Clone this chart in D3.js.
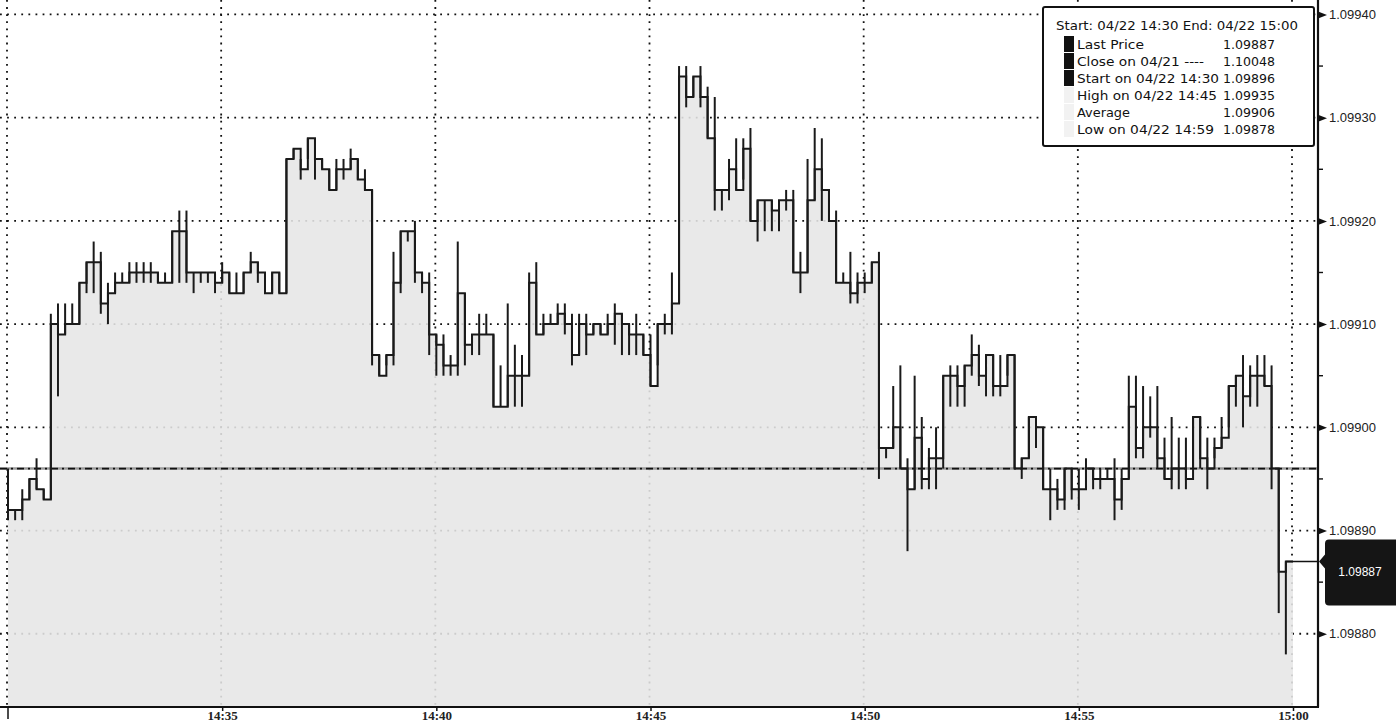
<!DOCTYPE html>
<html><head><meta charset="utf-8">
<script src="https://cdn.jsdelivr.net/npm/d3@7"></script>
<style>body{margin:0;background:#fff;} svg{display:block;}</style>
</head><body><svg id="c" width="1400" height="725"></svg>
<script>
// ---- data: 10-second bars, 14:30:00 .. 14:59:50 (04/22) ----
const highs = [
1.09896,1.09892,1.09894,1.09895,1.09897,1.09894,1.09911,1.09912,1.09912,1.09912,
1.09914,1.09916,1.09918,1.09917,1.09914,1.09915,1.09915,1.09916,1.09916,1.09916,
1.09916,1.09915,1.09915,1.09919,1.09921,1.09921,1.09915,1.09915,1.09915,1.09915,
1.09916,1.09915,1.09915,1.09915,1.09917,1.09916,1.09915,1.09915,1.09915,1.09926,
1.09927,1.09926,1.09928,1.09928,1.09926,1.09925,1.09926,1.09926,1.09927,1.09926,
1.09925,1.09923,1.09907,1.09907,1.09917,1.09919,1.09919,1.09920,1.09915,1.09915,
1.09909,1.09909,1.09907,1.09918,1.09913,1.09909,1.09911,1.09911,1.09909,1.09906,
1.09912,1.09908,1.09907,1.09915,1.09916,1.09911,1.09911,1.09912,1.09912,1.09911,
1.09911,1.09911,1.09910,1.09910,1.09911,1.09912,1.09911,1.09910,1.09911,1.09909,
1.09909,1.09910,1.09911,1.09915,1.09935,1.09935,1.09934,1.09935,1.09933,1.09932,
1.09923,1.09926,1.09928,1.09928,1.09929,1.09922,1.09922,1.09922,1.09922,1.09923,
1.09923,1.09917,1.09926,1.09929,1.09928,1.09923,1.09921,1.09915,1.09917,1.09915,
1.09915,1.09916,1.09917,1.09898,1.09904,1.09906,1.09897,1.09905,1.09901,1.09898,
1.09900,1.09905,1.09906,1.09906,1.09906,1.09909,1.09908,1.09907,1.09907,1.09907,
1.09907,1.09907,1.09897,1.09901,1.09901,1.09900,1.09896,1.09895,1.09896,1.09896,
1.09896,1.09897,1.09896,1.09896,1.09896,1.09897,1.09896,1.09905,1.09905,1.09904,
1.09903,1.09904,1.09899,1.09901,1.09899,1.09899,1.09901,1.09901,1.09899,1.09899,
1.09901,1.09904,1.09905,1.09907,1.09906,1.09907,1.09907,1.09906,1.09896,1.09887];
const lows = [
1.09891,1.09891,1.09891,1.09893,1.09894,1.09893,1.09893,1.09903,1.09909,1.09910,
1.09910,1.09913,1.09913,1.09911,1.09910,1.09913,1.09914,1.09914,1.09914,1.09914,
1.09914,1.09914,1.09914,1.09914,1.09914,1.09914,1.09913,1.09914,1.09914,1.09913,
1.09914,1.09913,1.09913,1.09913,1.09915,1.09914,1.09913,1.09913,1.09913,1.09913,
1.09926,1.09924,1.09926,1.09924,1.09925,1.09923,1.09923,1.09924,1.09925,1.09924,
1.09923,1.09906,1.09905,1.09906,1.09906,1.09913,1.09918,1.09914,1.09913,1.09907,
1.09905,1.09905,1.09905,1.09905,1.09906,1.09907,1.09907,1.09909,1.09902,1.09902,
1.09902,1.09902,1.09902,1.09905,1.09909,1.09909,1.09910,1.09910,1.09909,1.09906,
1.09907,1.09907,1.09909,1.09909,1.09909,1.09908,1.09907,1.09907,1.09907,1.09907,
1.09904,1.09906,1.09909,1.09909,1.09912,1.09931,1.09932,1.09931,1.09928,1.09921,
1.09921,1.09922,1.09923,1.09924,1.09920,1.09918,1.09919,1.09919,1.09919,1.09921,
1.09915,1.09913,1.09915,1.09922,1.09920,1.09920,1.09914,1.09914,1.09912,1.09912,
1.09913,1.09914,1.09895,1.09897,1.09898,1.09896,1.09888,1.09894,1.09894,1.09894,
1.09894,1.09896,1.09902,1.09902,1.09902,1.09905,1.09904,1.09903,1.09903,1.09903,
1.09905,1.09896,1.09895,1.09897,1.09898,1.09894,1.09891,1.09892,1.09892,1.09893,
1.09892,1.09894,1.09894,1.09894,1.09895,1.09891,1.09892,1.09895,1.09897,1.09897,
1.09899,1.09896,1.09895,1.09894,1.09894,1.09894,1.09896,1.09896,1.09894,1.09897,
1.09898,1.09900,1.09902,1.09900,1.09902,1.09902,1.09904,1.09894,1.09882,1.09878];
const closes = [
1.09892,1.09892,1.09893,1.09895,1.09894,1.09893,1.09910,1.09909,1.09910,1.09910,
1.09914,1.09916,1.09916,1.09912,1.09913,1.09914,1.09914,1.09915,1.09915,1.09915,
1.09915,1.09914,1.09914,1.09919,1.09919,1.09915,1.09915,1.09915,1.09915,1.09914,
1.09915,1.09913,1.09913,1.09915,1.09916,1.09915,1.09913,1.09915,1.09913,1.09926,
1.09927,1.09925,1.09928,1.09926,1.09925,1.09923,1.09925,1.09925,1.09926,1.09924,
1.09923,1.09907,1.09905,1.09907,1.09914,1.09919,1.09919,1.09915,1.09914,1.09909,
1.09908,1.09906,1.09906,1.09913,1.09908,1.09909,1.09909,1.09909,1.09902,1.09902,
1.09905,1.09905,1.09905,1.09914,1.09909,1.09910,1.09910,1.09911,1.09910,1.09907,
1.09910,1.09909,1.09910,1.09909,1.09910,1.09911,1.09910,1.09909,1.09909,1.09907,
1.09904,1.09910,1.09910,1.09912,1.09934,1.09932,1.09934,1.09932,1.09928,1.09923,
1.09923,1.09925,1.09923,1.09927,1.09920,1.09922,1.09922,1.09921,1.09922,1.09922,
1.09915,1.09915,1.09922,1.09925,1.09923,1.09920,1.09914,1.09914,1.09913,1.09914,
1.09914,1.09916,1.09898,1.09898,1.09900,1.09896,1.09894,1.09899,1.09895,1.09897,
1.09897,1.09905,1.09905,1.09904,1.09906,1.09907,1.09905,1.09907,1.09904,1.09904,
1.09907,1.09896,1.09897,1.09901,1.09900,1.09894,1.09894,1.09893,1.09896,1.09894,
1.09894,1.09896,1.09895,1.09895,1.09895,1.09893,1.09895,1.09902,1.09898,1.09900,
1.09900,1.09897,1.09895,1.09896,1.09896,1.09895,1.09901,1.09897,1.09896,1.09898,
1.09899,1.09904,1.09905,1.09903,1.09905,1.09905,1.09904,1.09896,1.09886,1.09887];
const barSeconds = 10;
const sessionStart = "14:30";
const sessionEnd = "15:00";
const startPrice = 1.09896;
const lastPrice = 1.09887;
const xGridTimes = ["14:30","14:35","14:40","14:45","14:50","14:55","15:00"];
const xTickLabels = ["14:35","14:40","14:45","14:50","14:55","15:00"];
const yTickValues = [1.09880,1.09890,1.09900,1.09910,1.09920,1.09930,1.09940];
const legendHeader = "Start: 04/22 14:30 End: 04/22 15:00";
const legendLabels = ["Last Price","Close on 04/21 ----","Start on 04/22 14:30","High on 04/22 14:45","Average","Low on 04/22 14:59"];
const legendValues = ["1.09887","1.10048","1.09896","1.09935","1.09906","1.09878"];
const legendSwatch = ["#111","#111","#111","#f2f2f2","#f2f2f2","#f2f2f2"];
// text widths (layout) measured on the reference legend
const legendLabelWidths = [67,127,142,140,53,137];

// ---- scales ----
const parseHM = d3.timeParse("%H:%M");
const t0 = parseHM(sessionStart), t1 = parseHM(sessionEnd);
const x = d3.scaleTime().domain([t0, t1]).range([8, 1293]);
const y = d3.scaleLinear().domain([1.09873, 1.099414]).range([706, 0]);
const plotBottom = 706, axisX = 1318, axisY = 707;
const barTime = i => d3.timeSecond.offset(t0, i * barSeconds);

const svg = d3.select("#c");
svg.append("rect").attr("width",1400).attr("height",725).attr("fill","#fff");

// ---- gridlines ----
const grid = svg.append("g").attr("stroke","#111").attr("stroke-width",1.8).attr("stroke-dasharray","1.8,5.3");
grid.selectAll("line.h").data(yTickValues).join("line")
  .attr("x1",0).attr("x2",axisX).attr("y1",d=>y(d)).attr("y2",d=>y(d));
grid.selectAll("line.v").data(xGridTimes).join("line")
  .attr("x1",d=>x(parseHM(d))-1).attr("x2",d=>x(parseHM(d))-1).attr("y1",0).attr("y2",plotBottom);

// ---- area fill ----
const pts = closes.map((c,i)=>({t:barTime(i), v:c}));
pts.push({t:barTime(closes.length), v:closes[closes.length-1]});
const area = d3.area().curve(d3.curveStepAfter).x(d=>x(d.t)).y0(plotBottom).y1(d=>y(d.v));
svg.append("path").datum(pts).attr("d",area).attr("fill","#e6e6e6").attr("fill-opacity",0.88);

// ---- start price line ----
svg.append("line").attr("x1",0).attr("x2",axisX).attr("y1",y(startPrice)).attr("y2",y(startPrice))
  .attr("stroke","#9a9a9a").attr("stroke-width",2.5);
svg.append("line").attr("x1",0).attr("x2",axisX).attr("y1",y(startPrice)).attr("y2",y(startPrice))
  .attr("stroke","#111").attr("stroke-width",1.8).attr("stroke-dasharray","7,4,2,4");

// ---- price bars ----
const line = d3.line().curve(d3.curveStepAfter).x(d=>x(d.t)).y(d=>y(d.v));
svg.append("path").datum(pts).attr("d",line).attr("fill","none").attr("stroke","#1a1a1a").attr("stroke-width",2);
svg.append("g").selectAll("line").data(closes).join("line")
  .attr("x1",(d,i)=>x(barTime(i))).attr("x2",(d,i)=>x(barTime(i)))
  .attr("y1",(d,i)=>y(highs[i])).attr("y2",(d,i)=>y(lows[i]))
  .attr("stroke","#1a1a1a").attr("stroke-width",2);

// ---- last price marker line ----
svg.append("line").attr("x1",x(barTime(closes.length-1))).attr("x2",axisX)
  .attr("y1",y(lastPrice)).attr("y2",y(lastPrice)).attr("stroke","#111").attr("stroke-width",1.6);

// ---- bottom axis ----
const xAxis = d3.axisBottom(x).tickValues(xTickLabels.map(parseHM)).tickFormat(d3.timeFormat("%H:%M")).tickSize(4).tickPadding(0);
const gx = svg.append("g").attr("transform",`translate(0,${axisY})`).call(xAxis);
gx.select(".domain").remove();
gx.selectAll(".tick line").attr("stroke","#111").attr("stroke-width",1.5);
gx.selectAll(".tick text").attr("font-family","'Liberation Serif', serif").attr("font-size",13)
  .attr("font-weight","bold").attr("fill","#222").attr("dy","0.68em");
svg.append("line").attr("x1",0).attr("x2",axisX+1).attr("y1",axisY).attr("y2",axisY).attr("stroke","#111").attr("stroke-width",2.2);
svg.append("line").attr("x1",x(t0)).attr("x2",x(t0)).attr("y1",axisY).attr("y2",axisY+12).attr("stroke","#111").attr("stroke-width",1.5);

// ---- right axis ----
svg.append("line").attr("x1",axisX).attr("x2",axisX).attr("y1",0).attr("y2",axisY).attr("stroke","#111").attr("stroke-width",2.2);
const yAxis = d3.axisRight(y).tickValues(yTickValues).tickFormat(d3.format(".5f")).tickSize(0).tickPadding(11);
const gy = svg.append("g").attr("transform",`translate(${axisX},0)`).call(yAxis);
gy.select(".domain").remove();
gy.selectAll(".tick text").attr("font-family","'Liberation Sans', Arial, sans-serif").attr("font-size",13).attr("fill","#222");
gy.selectAll(".tick").append("path").attr("d","M0,-3.5L9,0L0,3.5Z").attr("fill","#111");
const minorTicks = d3.range(yTickValues.length-1).map(i=>(yTickValues[i]+yTickValues[i+1])/2);
svg.append("g").selectAll("line").data(minorTicks).join("line")
  .attr("x1",axisX).attr("x2",axisX+5).attr("y1",d=>y(d)).attr("y2",d=>y(d)).attr("stroke","#111").attr("stroke-width",1.4);

// ---- last price tag ----
const ly = y(lastPrice);
const tTop = ly - 22, tBot = ly + 44;
svg.append("path").attr("d",`M${axisX+1},${ly} L${axisX+7},${ly-7} L${axisX+7},${tTop+4} Q${axisX+7},${tTop} ${axisX+11},${tTop} L1396,${tTop} L1396,${tBot} L${axisX+11},${tBot} Q${axisX+7},${tBot} ${axisX+7},${tBot-4} L${axisX+7},${ly+7} Z`)
  .attr("fill","#151515");
svg.append("text").attr("x",1360).attr("y",(tTop+tBot)/2+4).attr("text-anchor","middle")
  .attr("font-family","'Liberation Sans', Arial, sans-serif").attr("font-size",12).attr("fill","#fff").text(d3.format(".5f")(lastPrice));

// ---- legend ----
const lg = svg.append("g");
lg.append("rect").attr("x",1043).attr("y",7).attr("width",271).attr("height",139).attr("rx",2)
  .attr("fill","#fff").attr("stroke","#111").attr("stroke-width",2);
const lf = "'DejaVu Sans', Verdana, sans-serif";
lg.append("text").attr("x",1056).attr("y",30).attr("font-family",lf).attr("font-size",12.5).attr("fill","#111")
  .attr("textLength",242).attr("lengthAdjust","spacingAndGlyphs").text(legendHeader);
legendLabels.forEach((lab,i)=>{
  const cy = 44 + i*17;
  lg.append("rect").attr("x",1064).attr("y",cy-8).attr("width",10).attr("height",16).attr("fill",legendSwatch[i]);
  lg.append("text").attr("x",1077).attr("y",cy+5).attr("font-family",lf).attr("font-size",13).attr("fill","#111")
    .attr("textLength",legendLabelWidths[i]).attr("lengthAdjust","spacingAndGlyphs").text(lab);
  lg.append("text").attr("x",1223).attr("y",cy+5).attr("font-family",lf).attr("font-size",13).attr("fill","#111")
    .attr("textLength",52).attr("lengthAdjust","spacingAndGlyphs").text(legendValues[i]);
});
</script></body></html>
